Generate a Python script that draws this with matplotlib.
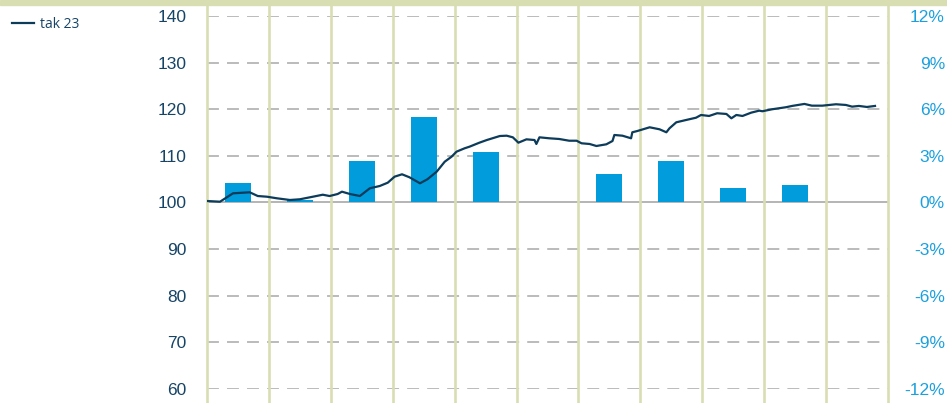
import matplotlib
matplotlib.use('Agg')
import matplotlib.pyplot as plt
from matplotlib.patches import Rectangle

plt.rcParams['font.family'] = ['Liberation Sans', 'DejaVu Sans']

# index line (position in periods, index level)
line_t = [0.0, 0.21, 0.42, 0.69, 0.82, 0.97, 1.13, 1.34, 1.5, 1.71, 1.87, 1.98,
          2.11, 2.18, 2.31, 2.47, 2.63, 2.79, 2.92, 3.03, 3.15, 3.27, 3.44, 3.56,
          3.71, 3.84, 3.95, 4.03, 4.16, 4.24, 4.40, 4.52, 4.61, 4.73, 4.84, 4.94,
          5.03, 5.16, 5.29, 5.32, 5.37, 5.53, 5.69, 5.85, 5.97, 6.05, 6.18, 6.29,
          6.45, 6.55, 6.58, 6.71, 6.85, 6.87, 6.95, 7.15, 7.31, 7.42, 7.47, 7.58,
          7.74, 7.90, 7.98, 8.11, 8.24, 8.39, 8.47, 8.55, 8.65, 8.79, 8.92, 8.97,
          9.13, 9.35, 9.45, 9.65, 9.77, 9.94, 10.16, 10.32, 10.42, 10.53, 10.66, 10.79]
line_v = [100.32, 100.17, 101.97, 102.19, 101.39, 101.24, 100.90, 100.54, 100.69, 101.24, 101.67, 101.39,
          101.82, 102.32, 101.82, 101.39, 103.05, 103.54, 104.25, 105.54, 106.05, 105.41, 104.12, 104.98,
          106.61, 108.75, 109.82, 110.90, 111.62, 111.97, 112.83, 113.40, 113.77, 114.26, 114.33, 113.98,
          112.83, 113.55, 113.40, 112.55, 113.98, 113.77, 113.62, 113.25, 113.25, 112.70, 112.55, 112.12,
          112.48, 113.19, 114.48, 114.33, 113.77, 115.06, 115.33, 116.13, 115.70, 115.06, 115.91, 117.20,
          117.70, 118.19, 118.77, 118.56, 119.14, 118.99, 118.06, 118.77, 118.56, 119.27, 119.70, 119.57,
          120.00, 120.43, 120.71, 121.14, 120.77, 120.77, 121.07, 120.92, 120.56, 120.71, 120.49, 120.71]

# period returns in %
bar_pos = [0.5, 1.5, 2.5, 3.5, 4.5, 5.5, 6.5, 7.5, 8.5, 9.5]
bar_pct = [1.25, 0.16, 2.67, 5.5, 3.25, 0.05, 1.83, 2.67, 0.93, 1.13]

left_ticks = [60, 70, 80, 90, 100, 110, 120, 130, 140]
right_ticks = [-12, -9, -6, -3, 0, 3, 6, 9, 12]

navy = '#0d3b5a'
blue = '#009cdc'
olive = '#d9deb2'

fig = plt.figure(figsize=(9.47, 4.03), dpi=100)
ax = fig.add_axes([207 / 947, 14 / 403, 681 / 947, 373 / 403])
ax.set_xlim(0, 11)
ax.set_ylim(60, 140)
for s in ax.spines.values():
    s.set_visible(False)
ax.set_xticks([])

# top band
fig.patches.append(Rectangle((0, 398 / 403), 1, 5 / 403, transform=fig.transFigure,
                             color=olive, zorder=0))

for y in left_ticks:
    if y == 100:
        ax.axhline(y, color='#a0a0a0', lw=1.1, zorder=1)
    else:
        ax.axhline(y, color='#a8a8a8', lw=1.1, ls=(0, (7.8, 5.3)), zorder=1)

for i in range(12):
    ax.axvline(i, ymin=-0.04, ymax=1.03, color=olive, lw=1.9, clip_on=False, zorder=1)

ax.bar(bar_pos, [p / 0.3 for p in bar_pct], bottom=100, width=0.42, color=blue, zorder=2)
ax.plot(line_t, line_v, color=navy, lw=1.6, zorder=3, label='tak 23')

ax.set_yticks(left_ticks)
ax.set_yticklabels([str(t) for t in left_ticks])
ax.tick_params(axis='y', length=0, pad=15, labelsize=12.5, labelcolor='#164466')

sec = ax.secondary_yaxis('right', functions=(lambda v: (v - 100) * 0.3, lambda p: p / 0.3 + 100))
for s in sec.spines.values():
    s.set_visible(False)
sec.set_yticks(right_ticks)
sec.set_yticklabels(['%d%%' % t for t in right_ticks], ha='right')
sec.tick_params(axis='y', length=0, pad=41, labelsize=12.5, labelcolor='#1ba0de')

ax.legend(loc='upper left', bbox_to_anchor=(12 / 947, 386 / 403), bbox_transform=fig.transFigure,
          frameon=False, borderpad=0, borderaxespad=0, handlelength=1.6, handletextpad=0.4,
          prop={'family': 'Open Sans', 'size': 10}, labelcolor='#164466')

fig.savefig('out.png', dpi=100)
